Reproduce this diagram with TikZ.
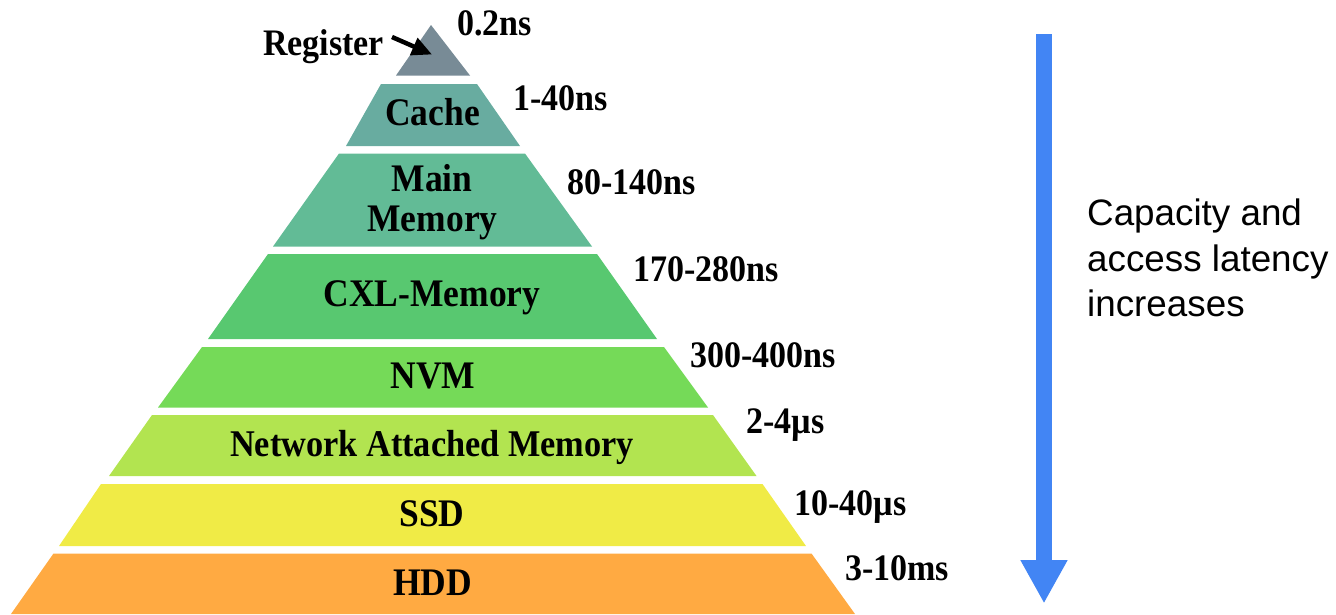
\documentclass[tikz,border=0pt]{standalone}
\usepackage{fontspec}
\setmainfont{Liberation Serif}
\setsansfont{Liberation Sans}
\usetikzlibrary{arrows.meta}
\definecolor{cReg}{RGB}{120,139,150}
\definecolor{cCache}{RGB}{104,172,160}
\definecolor{cMain}{RGB}{98,187,150}
\definecolor{cCXL}{RGB}{88,200,112}
\definecolor{cNVM}{RGB}{117,218,88}
\definecolor{cNAM}{RGB}{178,228,80}
\definecolor{cSSD}{RGB}{240,235,70}
\definecolor{cHDD}{RGB}{255,170,66}
\definecolor{cBlue}{RGB}{66,133,244}
\newcommand{\tallt}[1]{\scalebox{1}[1.1]{#1}}
\tikzset{
  lvltext/.style={inner sep=0pt, anchor=base, font=\fontsize{35.5}{40}\selectfont\bfseries},
  lattext/.style={inner sep=0pt, anchor=base west, font=\fontsize{34}{40}\selectfont\bfseries},
  sidetext/.style={inner sep=0pt, anchor=base west, font=\fontsize{36.8}{45}\selectfont\sffamily},
}
\begin{document}
\begin{tikzpicture}[x=1pt,y=-1pt]
\useasboundingbox (0,0) rectangle (1336,614);
% pyramid layers
\fill[cReg]   (431,25) -- (470,75.5) -- (396,75.5) -- cycle;
\fill[cCache] (381,84) -- (477,84) -- (520,146) -- (346,146) -- cycle;
\fill[cMain]  (339,153.5) -- (525,153.5) -- (592,246.5) -- (273,246.5) -- cycle;
\fill[cCXL]   (268,254) -- (597,254) -- (657,339) -- (208,339) -- cycle;
\fill[cNVM]   (202,347) -- (664,347) -- (708,407.5) -- (158,407.5) -- cycle;
\fill[cNAM]   (152,415) -- (713,415) -- (756.5,476) -- (109,476) -- cycle;
\fill[cSSD]   (101,484) -- (762.5,484) -- (806,546) -- (59,546) -- cycle;
\fill[cHDD]   (53.5,553.5) -- (811.5,553.5) -- (855,614) -- (11,614) -- cycle;
% layer labels
\node[lvltext] (cache) at (432.5,125) {\tallt{Cache}};
\node[lvltext] (mainA) at (432,191.7) {\tallt{Main}};
\node[lvltext] (mainB) at (432.5,231.7) {\tallt{Memory}};
\node[lvltext] (cxl) at (432,306.7) {\tallt{CXL-Memory}};
\node[lvltext] (nvm) at (433,388.3) {\tallt{NVM}};
\node[lvltext, font=\fontsize{34.3}{40}\selectfont\bfseries] (nam) at (432,456.7) {\tallt{Network Attached Memory}};
\node[lvltext] (ssd) at (432,526.7) {\tallt{SSD}};
\node[lvltext] (hdd) at (432.5,595) {\tallt{HDD}};
% register label and arrow
\node[lattext] (reg) at (263,55) {\tallt{Register}};
\coordinate (regtail) at (392,37);
\coordinate (regtip) at (432,54.5);
\draw[line width=4.5pt, -{Triangle[length=20pt,width=18pt]}] (regtail) -- (regtip);
% latencies
\node[lattext] (l0) at (457,35) {\tallt{0.2ns}};
\node[lattext] (l1) at (513,110) {\tallt{1-40ns}};
\node[lattext] (l2) at (567,194) {\tallt{80-140ns}};
\node[lattext] (l3) at (633,281.7) {\tallt{170-280ns}};
\node[lattext] (l4) at (690,367.7) {\tallt{300-400ns}};
\node[lattext] (l5) at (746,433.3) {\tallt{2-4µs}};
\node[lattext] (l6) at (794,515) {\tallt{10-40µs}};
\node[lattext] (l7) at (845,580) {\tallt{3-10ms}};
% blue arrow
\coordinate (btop) at (1044,34);
\coordinate (bbot) at (1044,603.5);
\draw[cBlue, line width=15.5pt, -{Triangle[length=43.5pt,width=44pt]}] (btop) -- (bbot);
% side text
\node[sidetext] (cap1) at (1087,225.7) {Capacity and};
\node[sidetext] (cap2) at (1087,271.5) {access latency};
\node[sidetext] (cap3) at (1087,316.7) {increases};
\end{tikzpicture}
\end{document}
